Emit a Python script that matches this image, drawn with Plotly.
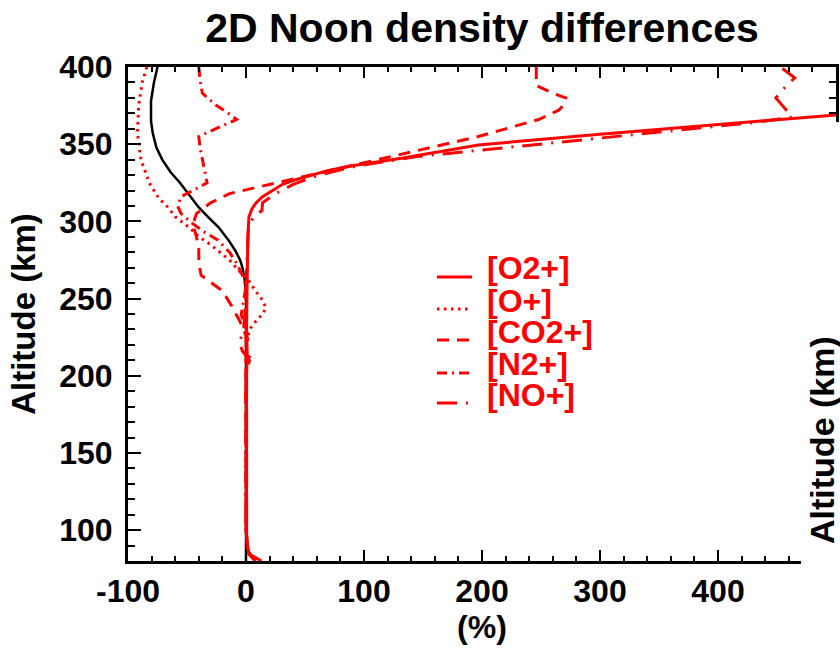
import plotly.graph_objects as go

# ---------------- data ----------------
alt_black = [400, 390, 378, 365, 357, 348, 340, 332, 325, 317, 309, 302, 296, 288, 281, 275, 270, 262, 250, 200, 150, 100, 80]
pct_black = [-75, -78, -80.5, -80.5, -79, -76, -71, -64, -56, -48, -40, -31, -23, -15, -9, -5, -3, -1, 0, 0, 0, 0, 0]

alt_o2 = [80, 82, 84, 87, 92, 100, 120, 150, 180, 200, 215, 230, 250, 270, 280, 288, 296, 303, 308, 312, 316, 320,
          324, 327, 330, 333, 336, 338.5, 341, 344, 349.5, 356.5, 363.2, 369.5, 376, 388, 400]
pct_o2 = [13, 9, 4, 1.5, 0.8, 0.5, 0.5, 0.3, 0.5, 0.5, 1, 0.5, 0.8, 1, 1.2, 1.5, 2, 2.5, 5, 8.5, 14, 22,
          31, 42, 55, 70, 90, 112, 133, 155, 197, 300, 400, 498, 600, 800, 1000]

alt_op = [400, 390, 375, 357, 340, 325, 315, 309, 303, 296, 290, 286, 280, 275, 268, 262, 255, 250, 244, 240, 235,
          231, 225, 215, 200, 150, 100, 85, 80]
pct_op = [-84, -88, -91, -92, -89, -82, -74, -66, -60, -48, -40, -32, -22, -14, -6, 2, 8, 13, 17, 14, 8,
          4, 1, 0, 0, 0, 0, 2, 8]

alt_co2 = [400, 388, 383, 380, 376, 372, 366, 361, 355, 349, 342, 336, 330, 324, 318, 312, 305, 298, 290, 282,
           273, 265, 255, 245, 235, 226, 200, 150, 100, 85, 80]
pct_co2 = [246, 246, 260, 271, 270, 265, 248, 225, 197, 163, 123, 89, 55, 20, -14, -30, -42, -45, -42, -40,
           -40, -38, -20, -12, -5, 0, 0, 0, 0, 2, 8]

alt_n2 = [400, 392, 383, 375, 370, 366, 362, 358, 355, 348, 340, 330, 325, 320, 316, 310, 305, 299, 293, 288, 280,
          273, 265, 258, 250, 240, 230, 222, 216, 212, 205, 195, 150, 100, 85, 80]
pct_n2 = [-40, -39, -37, -25, -15, -8, -20, -32, -40, -39, -37, -34, -33, -45, -55, -58, -55, -46, -35, -24, -14,
          -8, -3, 0, -2, -4, -1, 2, -3, 3, 0, 0, 0, 0, 2, 8]

alt_no = [80, 85, 100, 150, 200, 210, 216, 222, 228, 240, 260, 275, 285, 295, 300, 304, 307, 312, 318, 324, 330,
          336, 342, 346, 350, 355, 360, 364, 367.5, 373, 380, 387, 393, 400]
pct_no = [8, 2, 0, 0, 0, 3, -3, -6, -2, -1, 0, 0.5, 1, 2, 4, 8, 13.5, 14, 25, 40, 62,
          95, 145, 197, 245, 310, 380, 430, 463, 457, 449, 457, 465, 453]

series_names = ["[O2+]", "[O+]", "[CO2+]", "[N2+]", "[NO+]"]
series_dash = ["solid", "2.5px,4.5px", "12px,8px", "10px,5px,2px,5px", "20px,9px,2px,9px"]

x_ticks = [-100, 0, 100, 200, 300, 400]
x_ticktext = ["-100", "0", "100", "200", "300", "400"]
y_ticks = [100, 150, 200, 250, 300, 350, 400]

# ---------------- figure ----------------
FONT = "Liberation Sans, Arial, sans-serif"
RED = "#ff0000"
W, H = 840, 648
PL, PR, PT, PB = 128, 836, 67, 561  # plot box in page pixels
L, R, T, B = PL, W - PR, PT, H - PB
PW, PH = W - L - R, H - T - B


def px2paper(px, py):
    return (px - PL) / PW, (PB - py) / PH


fig = go.Figure()

fig.add_trace(go.Scatter(x=pct_black, y=alt_black, mode="lines",
                         line=dict(color="black", width=2.5), showlegend=False))

all_x = [pct_o2, pct_op, pct_co2, pct_n2, pct_no]
all_y = [alt_o2, alt_op, alt_co2, alt_n2, alt_no]
for nm, xs, ys, ds in zip(series_names, all_x, all_y, series_dash):
    fig.add_trace(go.Scatter(x=xs, y=ys, mode="lines", name=nm,
                             line=dict(color=RED, width=3, dash=ds), showlegend=False))

# custom legend (line samples + labels)
leg_line_y = [277, 309, 340, 373, 403]
leg_text_y = [268, 301, 332, 364, 395]
shapes = []
annotations = []
for nm, ds, ly, ty in zip(series_names, series_dash, leg_line_y, leg_text_y):
    x0, y0 = px2paper(437, ly)
    x1, _ = px2paper(472, ly)
    shapes.append(dict(type="line", xref="paper", yref="paper", x0=x0, x1=x1, y0=y0, y1=y0,
                       line=dict(color=RED, width=3, dash=ds)))
    tx, tyy = px2paper(485, ty)
    annotations.append(dict(xref="paper", yref="paper", x=tx, y=tyy, xanchor="left", yanchor="middle",
                            text=nm, showarrow=False,
                            font=dict(family=FONT, size=32, color=RED, weight="bold")))

# white cover on the right edge (neighbouring panel)
cx0, cy0 = px2paper(801, 660)
cx1, cy1 = px2paper(845, 122)
shapes.append(dict(type="rect", xref="paper", yref="paper", x0=cx0, x1=cx1, y0=cy0, y1=cy1,
                   fillcolor="white", line=dict(width=0), layer="above"))

rx, ry = px2paper(822, 440)
annotations.append(dict(xref="paper", yref="paper", x=rx, y=ry, xanchor="center", yanchor="middle",
                        text="Altitude (km)", textangle=-90, showarrow=False,
                        font=dict(family=FONT, size=34, color="black", weight="bold")))

axis_common = dict(showgrid=False, zeroline=False, showline=True, linecolor="black", linewidth=3,
                   mirror="allticks", ticks="inside", tickcolor="black", tickwidth=2,
                   tickfont=dict(family=FONT, size=32, color="black", weight="bold"))

fig.update_layout(
    width=W, height=H,
    margin=dict(l=L, r=R, t=T, b=B, autoexpand=False),
    paper_bgcolor="white", plot_bgcolor="white",
    font=dict(family=FONT, color="black", weight="bold"),
    title=dict(text="2D Noon density differences", x=482 / W, xanchor="center",
               y=1 - 28 / H, yanchor="middle", yref="container",
               font=dict(family=FONT, size=41, color="black", weight="bold")),
    xaxis=dict(range=[-100, 500], tickvals=x_ticks, ticktext=x_ticktext, ticklen=11,
               minor=dict(dtick=20, ticklen=5, tickwidth=2, tickcolor="black", ticks="inside"),
               title=dict(text="(%)", standoff=2,
                          font=dict(family=FONT, size=32, color="black", weight="bold")),
               **axis_common),
    yaxis=dict(range=[80, 400], tickvals=y_ticks, ticklen=13,
               minor=dict(dtick=10, ticklen=7, tickwidth=2, tickcolor="black", ticks="inside"),
               ticklabelstandoff=6,
               title=dict(text="Altitude (km)", standoff=14,
                          font=dict(family=FONT, size=33, color="black", weight="bold")),
               **axis_common),
    shapes=shapes,
    annotations=annotations,
    showlegend=False,
)

fig.write_html("out.html",
               config={"displayModeBar": False},
               post_script="document.body.style.margin='0';document.body.style.overflow='hidden';")
